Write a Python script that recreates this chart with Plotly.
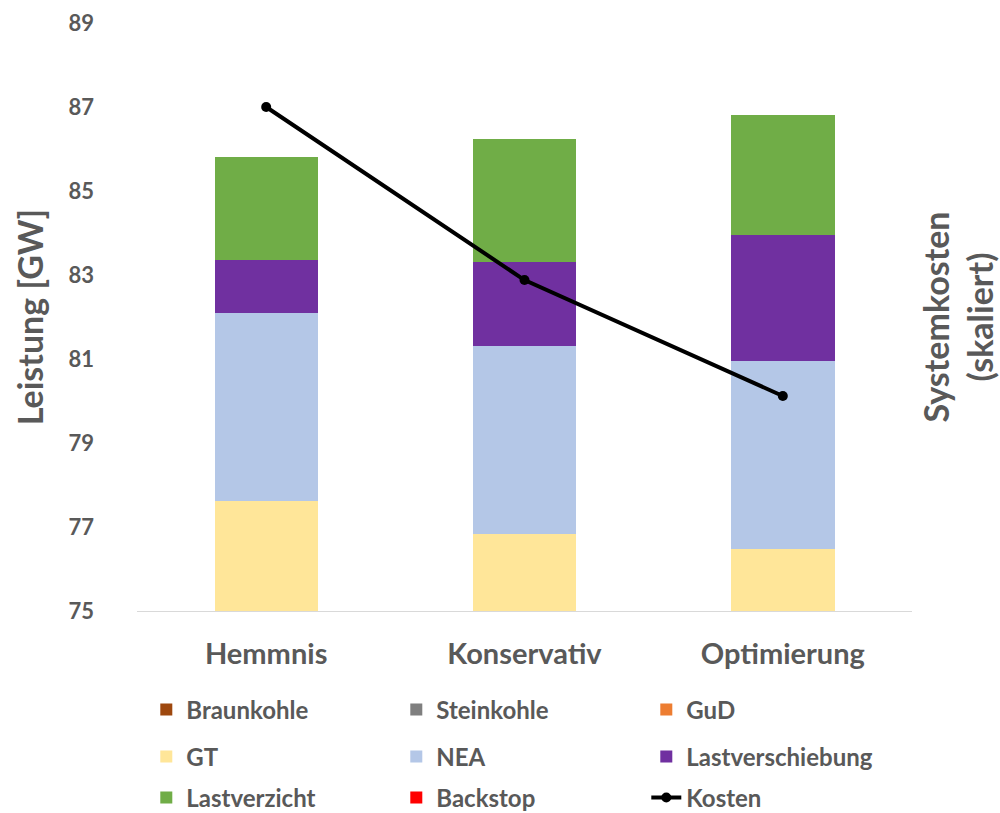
import plotly.graph_objects as go

# Scenarios
szenarien = ["Hemmnis", "Konservativ", "Optimierung"]

# Installed capacity per technology [GW]
braunkohle = [18.0, 18.0, 18.0]
steinkohle = [22.0, 22.0, 22.0]
gud = [25.0, 25.0, 25.0]
gt = [12.62, 11.83, 11.48]
nea = [4.48, 4.49, 4.47]
lastverschiebung = [1.26, 1.99, 3.01]
lastverzicht = [2.45, 2.93, 2.85]
backstop = [0.0, 0.0, 0.0]

# System costs (scaled onto the capacity axis)
kosten = [87.0, 82.88, 80.12]

y_ticks = [75, 77, 79, 81, 83, 85, 87, 89]

FONT = "Lato"
GREY = "#595959"

serien = [
    ("Braunkohle", braunkohle, "#9E480E", "legend"),
    ("Steinkohle", steinkohle, "#7F7F7F", "legend"),
    ("GuD", gud, "#ED7D31", "legend"),
    ("GT", gt, "#FFE699", "legend2"),
    ("NEA", nea, "#B4C7E7", "legend2"),
    ("Lastverschiebung", lastverschiebung, "#7030A0", "legend2"),
    ("Lastverzicht", lastverzicht, "#70AD47", "legend3"),
    ("Backstop", backstop, "#FF0000", "legend3"),
]

fig = go.Figure()
for name, werte, farbe, leg in serien:
    fig.add_trace(go.Bar(
        x=szenarien, y=werte, name=name, legend=leg,
        marker=dict(color=farbe, line=dict(width=0)),
    ))

fig.add_trace(go.Scatter(
    x=szenarien, y=kosten, name="Kosten", legend="legend3", yaxis="y2",
    mode="lines+markers",
    line=dict(color="#000000", width=4),
    marker=dict(color="#000000", size=10),
))

legend_common = dict(
    orientation="h", x=0.012, xanchor="left", yanchor="middle",
    entrywidth=205, entrywidthmode="pixels",
    font=dict(family=FONT, size=24, color=GREY, weight="bold"),
    bgcolor="rgba(0,0,0,0)", traceorder="normal",
)

fig.update_layout(
    width=1000, height=813,
    margin=dict(l=137, r=88, t=23, b=202, autoexpand=False),
    paper_bgcolor="white", plot_bgcolor="white",
    barmode="stack", bargap=0.6,
    font=dict(family=FONT, color=GREY),
    showlegend=True,
    legend=dict(y=-0.168, **legend_common),
    legend2=dict(y=-0.248, **legend_common),
    legend3=dict(y=-0.318, **legend_common),
    xaxis=dict(
        showgrid=False, showline=True, linecolor="#D9D9D9", linewidth=1,
        ticks="", ticklabelstandoff=17,
        tickfont=dict(family=FONT, size=29, color=GREY, weight="bold"),
    ),
    yaxis=dict(
        range=[75, 89], tickvals=y_ticks, showgrid=False, zeroline=False,
        showline=False, ticks="", ticklabelstandoff=42,
        tickfont=dict(family=FONT, size=22, color=GREY, weight="bold"),
        title=dict(text="Leistung [GW]", standoff=14,
                   font=dict(family=FONT, size=34, color=GREY, weight="bold")),
    ),
    yaxis2=dict(
        range=[75, 89], overlaying="y", side="right", showgrid=False,
        zeroline=False, showline=False, showticklabels=False, ticks="",
        title=dict(text="Systemkosten<br>(skaliert)", standoff=14,
                   font=dict(family=FONT, size=34, color=GREY, weight="bold")),
    ),
)

fig.write_html("out.html")
